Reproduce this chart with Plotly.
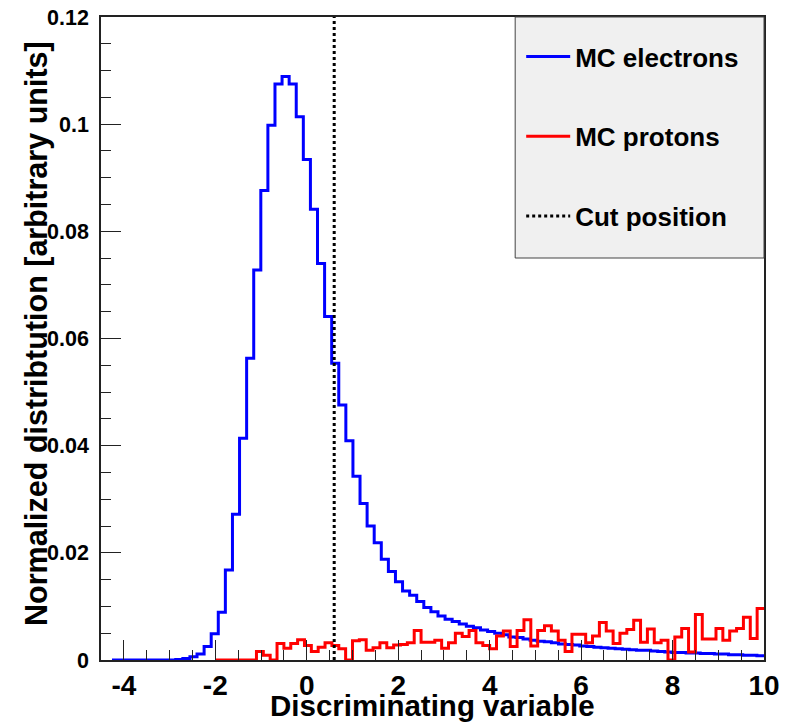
import numpy as np
import plotly.graph_objects as go

# ---------------- data ----------------
# MC electrons: histogram with 100 bins on [-5.5, 10]; bins shown from index 8 on
e_lo, e_hi, e_nbins, e_first = -5.5, 10.0, 100, 8
electrons = [
    0, 0, 0, 0, 0, 0, 0, 0, 0,
    0.0001, 0.0003, 0.0006, 0.0011,
    0.0025, 0.0049, 0.0089, 0.0168, 0.0272, 0.0414, 0.0563, 0.0728, 0.0876, 0.0998,
    0.1075, 0.1089, 0.1075, 0.1014, 0.0934, 0.0841, 0.0740, 0.0641, 0.0554, 0.0476,
    0.0409, 0.0343, 0.0292, 0.0250, 0.0219, 0.0188, 0.0165, 0.0146, 0.0129, 0.0121,
    0.0109, 0.0098, 0.0090, 0.0082, 0.0076, 0.0072, 0.0067, 0.0063, 0.0060, 0.0056,
    0.0053, 0.0050, 0.0047, 0.0043, 0.0042, 0.0039, 0.0037, 0.0035, 0.0034, 0.0032,
    0.0030, 0.0029, 0.0028, 0.0026, 0.0025, 0.0024, 0.0023, 0.0022, 0.0021, 0.0020,
    0.0019, 0.0018, 0.0018, 0.0017, 0.0016, 0.0015, 0.0014, 0.0014, 0.0013, 0.0013,
    0.0012, 0.0012, 0.0011, 0.0011, 0.0010, 0.0010, 0.0009, 0.0009, 0.0008,
]

# MC protons: histogram with 80 bins on [-2, 10]
p_lo, p_hi, p_nbins = -2.0, 10.0, 80
protons = [
    0, 0, 0, 0, 0, 0, 0.0016, 0.0009, 0, 0.0031,
    0.0022, 0.0031, 0.0038, 0.0027, 0.0016, 0.0024, 0.0032, 0.0027, 0.0021, 0,
    0.0036, 0.0038, 0.0018, 0.0023, 0.0032, 0.0023, 0.0028, 0.0029, 0.0032, 0.0055,
    0.0033, 0.0033, 0.0037, 0.0022, 0.0032, 0.0050, 0.0044, 0.0055, 0.0032, 0.0027,
    0.0021, 0.0045, 0.0054, 0.0025, 0.0055, 0.0075, 0.0026, 0.0055, 0.0064, 0.0054,
    0.0037, 0.0016, 0.0048, 0.0048, 0.0032, 0.0045, 0.0070, 0.0054, 0.0031, 0.0050,
    0.0057, 0.0074, 0.0033, 0.0058, 0.0032, 0.0037, 0, 0.0043, 0.0059, 0.0015,
    0.0085, 0.0039, 0.0039, 0.0059, 0.0037, 0.0054, 0.0059, 0.0080, 0.0040, 0.0096,
]

cut_position = 0.6

x_range = [-4.5, 10]
y_range = [0, 0.12]
x_tickvals = [-4, -2, 0, 2, 4, 6, 8, 10]
x_ticktext = ["-4", "-2", "0", "2", "4", "6", "8", "10"]
y_tickvals = [0, 0.02, 0.04, 0.06, 0.08, 0.10, 0.12]
y_ticktext = ["0", "0.02", "0.04", "0.06", "0.08", "0.1", "0.12"]
x_title = "Discriminating variable"
y_title = "Normalized distribtution [arbitrary units]"

# ---------------- build step lines ----------------
def step(edges, values):
    xs = list(edges)
    ys = list(values) + [values[-1]]
    return xs, ys

e_edges = np.linspace(e_lo, e_hi, e_nbins + 1)[e_first:]
p_edges = np.linspace(p_lo, p_hi, p_nbins + 1)

ex, ey = step(e_edges, electrons)
px, py = step(p_edges, protons)

FONT = "Liberation Sans, Arial, Helvetica, sans-serif"

fig = go.Figure()
fig.add_trace(go.Scatter(x=ex, y=ey, mode="lines", line=dict(color="#0000ff", width=3, shape="hv"),
                         name="MC electrons", legendgroup="e"))
fig.add_trace(go.Scatter(x=px, y=py, mode="lines", line=dict(color="#ff0000", width=3, shape="hv"),
                         name="MC protons", legendgroup="p"))
fig.add_trace(go.Scatter(x=[cut_position, cut_position], y=y_range, mode="lines",
                         line=dict(color="black", width=3, dash="dot"),
                         name="Cut position", legendgroup="c"))

FW, FH = 786, 724
L, R, T, B = 101, 763.7, 17, 660          # plot frame in pixels
W, H = R - L, B - T

def px_x(p):   # pixel -> paper x
    return (p - L) / W

def px_y(p):   # pixel -> paper y
    return (B - p) / H

# legend box
fig.add_shape(type="rect", xref="paper", yref="paper",
              x0=px_x(515), x1=1.0, y0=px_y(258), y1=1.0,
              fillcolor="#f0f0f0", line=dict(color="#444444", width=1), layer="above")

# axis titles (placed precisely)
fig.add_annotation(text=x_title, xref="paper", yref="paper", x=px_x(432), y=px_y(705),
                   xanchor="center", yanchor="middle", showarrow=False,
                   font=dict(family=FONT, size=29.5, color="black", weight="bold"))
fig.add_annotation(text=y_title, xref="paper", yref="paper", x=px_x(36), y=px_y(333),
                   xanchor="center", yanchor="middle", showarrow=False, textangle=-90,
                   font=dict(family=FONT, size=30.5, color="black", weight="bold"))

axis_common = dict(
    showgrid=False, zeroline=False, showline=True, mirror=True,
    linecolor="#222222", linewidth=1.5,
    ticks="inside", ticklen=20, tickwidth=1, tickcolor="#222222",
    ticklabeloverflow="allow",
)

fig.update_xaxes(
    range=x_range, tickvals=x_tickvals, ticktext=x_ticktext,
    minor=dict(ticks="inside", ticklen=10, dtick=0.5, tick0=0, tickcolor="#222222", tickwidth=1),
    tickfont=dict(family=FONT, size=28, color="black", weight="bold"),
    **axis_common,
)
fig.update_yaxes(
    range=y_range, tickvals=y_tickvals, ticktext=y_ticktext,
    minor=dict(ticks="inside", ticklen=10, dtick=0.005, tick0=0, tickcolor="#222222", tickwidth=1),
    tickfont=dict(family=FONT, size=21.5, color="black", weight="bold"),
    ticklabelstandoff=6,
    **axis_common,
)

fig.update_layout(
    width=FW, height=FH,
    margin=dict(l=L, r=FW - R, t=T, b=FH - B, autoexpand=False),
    plot_bgcolor="white", paper_bgcolor="white",
    font=dict(family=FONT, color="black"),
    showlegend=True,
    legend=dict(
        x=px_x(521), y=px_y(33), xanchor="left", yanchor="top",
        bgcolor="rgba(0,0,0,0)", borderwidth=0,
        font=dict(family=FONT, size=26, color="black", weight="bold"),
        itemwidth=44, tracegroupgap=43, traceorder="grouped",
    ),
)

fig.write_html("out.html",
               config={"displayModeBar": False},
               post_script="document.body.style.margin='0';document.body.style.overflow='hidden';")
